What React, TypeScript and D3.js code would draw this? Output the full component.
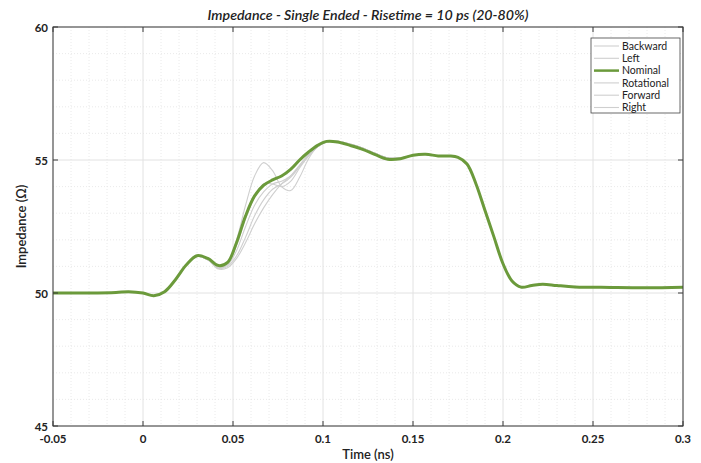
import React from "react";
import * as d3 from "d3";

const time = [-0.05, -0.03, -0.015, -0.008, 0, 0.006, 0.012, 0.018, 0.024, 0.03, 0.036, 0.042, 0.047, 0.052, 0.057, 0.062, 0.067, 0.072, 0.077, 0.082, 0.087, 0.092, 0.097, 0.102, 0.108, 0.115, 0.122, 0.129, 0.136, 0.143, 0.15, 0.157, 0.164, 0.17, 0.175, 0.18, 0.185, 0.19, 0.195, 0.2, 0.205, 0.21, 0.216, 0.222, 0.23, 0.24, 0.26, 0.28, 0.3];

const nominal = [50.0, 50.0, 50.02, 50.05, 50.0, 49.9, 50.05, 50.5, 51.05, 51.4, 51.3, 51.03, 51.15, 51.9, 52.9, 53.65, 54.05, 54.25, 54.4, 54.65, 55.0, 55.3, 55.55, 55.7, 55.68, 55.55, 55.4, 55.2, 55.03, 55.05, 55.18, 55.22, 55.15, 55.15, 55.1, 54.85, 54.1, 53.1, 52.1, 51.1, 50.45, 50.22, 50.28, 50.33, 50.28, 50.23, 50.21, 50.2, 50.22];
const backward = [50.0, 50.0, 50.02, 50.05, 50.0, 49.9, 50.05, 50.5, 51.05, 51.38, 51.25, 50.95, 51.1, 52.0, 53.3, 54.4, 54.9, 54.6, 54.0, 53.85, 54.35, 55.05, 55.5, 55.7, 55.7, 55.6, 55.45, 55.25, 55.08, 55.08, 55.18, 55.22, 55.15, 55.15, 55.1, 54.85, 54.1, 53.1, 52.1, 51.1, 50.45, 50.22, 50.28, 50.33, 50.28, 50.23, 50.21, 50.2, 50.22];
const left = [50.0, 50.0, 50.02, 50.05, 50.0, 49.9, 50.05, 50.5, 51.05, 51.38, 51.25, 50.95, 51.05, 51.6, 52.5, 53.3, 53.8, 54.1, 54.2, 54.4, 54.8, 55.2, 55.5, 55.68, 55.7, 55.6, 55.45, 55.25, 55.08, 55.08, 55.18, 55.22, 55.15, 55.15, 55.1, 54.85, 54.1, 53.1, 52.1, 51.1, 50.45, 50.22, 50.28, 50.33, 50.28, 50.23, 50.21, 50.2, 50.22];
const rotational = [50.0, 50.0, 50.02, 50.05, 50.0, 49.9, 50.05, 50.5, 51.05, 51.38, 51.25, 50.92, 51.0, 51.4, 52.1, 52.9, 53.5, 53.9, 54.1, 54.35, 54.75, 55.15, 55.5, 55.68, 55.7, 55.6, 55.45, 55.25, 55.08, 55.08, 55.18, 55.22, 55.15, 55.15, 55.1, 54.85, 54.1, 53.1, 52.1, 51.1, 50.45, 50.22, 50.28, 50.33, 50.28, 50.23, 50.21, 50.2, 50.22];
const forward = [50.0, 50.0, 50.02, 50.05, 50.0, 49.9, 50.05, 50.5, 51.05, 51.38, 51.25, 50.9, 50.95, 51.3, 51.9, 52.6, 53.2, 53.7, 54.1, 54.4, 54.8, 55.2, 55.5, 55.68, 55.7, 55.6, 55.45, 55.25, 55.08, 55.08, 55.18, 55.22, 55.15, 55.15, 55.1, 54.85, 54.1, 53.1, 52.1, 51.1, 50.45, 50.22, 50.28, 50.33, 50.28, 50.23, 50.21, 50.2, 50.22];
const right = [50.0, 50.0, 50.02, 50.05, 50.0, 49.9, 50.05, 50.5, 51.05, 51.38, 51.25, 50.95, 51.1, 51.8, 52.8, 53.6, 54.1, 54.1, 54.0, 54.2, 54.7, 55.15, 55.5, 55.68, 55.7, 55.6, 55.45, 55.25, 55.08, 55.08, 55.18, 55.22, 55.15, 55.15, 55.1, 54.85, 54.1, 53.1, 52.1, 51.1, 50.45, 50.22, 50.28, 50.33, 50.28, 50.23, 50.21, 50.2, 50.22];

const legendNames = ["Backward", "Left", "Nominal", "Rotational", "Forward", "Right"];
const xTicks = [-0.05, 0, 0.05, 0.1, 0.15, 0.2, 0.25, 0.3];
const xTickLabels = ["-0.05", "0", "0.05", "0.1", "0.15", "0.2", "0.25", "0.3"];
const yTicks = [45, 50, 55, 60];

const W = 701, H = 463;
const M = { left: 53, right: 683, top: 27, bottom: 426 };
const GREEN = "#6b9a3b";
const GRAY = "#cfcfcf";
const FONT = "Lato, 'Open Sans', sans-serif";

export default function App() {
  const x = d3.scaleLinear().domain([-0.05, 0.3]).range([M.left, M.right]);
  const y = d3.scaleLinear().domain([45, 60]).range([M.bottom, M.top]);
  const line = d3
    .line<number>()
    .x((_, i) => x(time[i]))
    .y((d) => y(d))
    .curve(d3.curveCatmullRom.alpha(0.5));

  const minorX = d3.range(-0.05, 0.3001, 0.01).filter((v) => Math.abs(Math.round(v * 20) - v * 20) > 1e-6);
  const minorY = d3.range(45, 60.001, 1).filter((v) => v % 5 !== 0);
  const grays = [backward, left, rotational, forward, right];
  const series = [backward, left, nominal, rotational, forward, right];

  const lx = 591, ly = 38, lw = 89, lh = 75;
  const rowH = 12.3;

  return (
    <svg width={W} height={H} style={{ position: "absolute", left: 0, top: 0, background: "#fff" }} fontFamily={FONT}>
      <rect x={0} y={0} width={W} height={H} fill="#fff" />
      {minorX.map((v, i) => (
        <line key={"mx" + i} x1={x(v)} x2={x(v)} y1={M.top} y2={M.bottom} stroke="#e4e4e4" strokeWidth={0.8} strokeDasharray="1,2" />
      ))}
      {minorY.map((v, i) => (
        <line key={"my" + i} x1={M.left} x2={M.right} y1={y(v)} y2={y(v)} stroke="#e4e4e4" strokeWidth={0.8} strokeDasharray="1,2" />
      ))}
      {xTicks.map((v, i) => (
        <line key={"gx" + i} x1={x(v)} x2={x(v)} y1={M.top} y2={M.bottom} stroke="#e2e2e2" strokeWidth={1} />
      ))}
      {yTicks.map((v, i) => (
        <line key={"gy" + i} x1={M.left} x2={M.right} y1={y(v)} y2={y(v)} stroke="#e2e2e2" strokeWidth={1} />
      ))}
      {grays.map((s, i) => (
        <path key={"g" + i} d={line(s) || ""} fill="none" stroke={GRAY} strokeWidth={1.1} />
      ))}
      <path d={line(nominal) || ""} fill="none" stroke={GREEN} strokeWidth={3} strokeLinejoin="round" />
      <rect x={M.left} y={M.top} width={M.right - M.left} height={M.bottom - M.top} fill="none" stroke="#3a3a3a" strokeWidth={1} />
      {xTicks.map((v, i) => (
        <g key={"tx" + i}>
          <line x1={x(v)} x2={x(v)} y1={M.bottom} y2={M.bottom - 5} stroke="#3a3a3a" />
          <line x1={x(v)} x2={x(v)} y1={M.top} y2={M.top + 5} stroke="#3a3a3a" />
          <text x={x(v)} y={M.bottom + 17} textAnchor="middle" fontSize={11.5} fontWeight="bold" fill="#222">
            {xTickLabels[i]}
          </text>
        </g>
      ))}
      {yTicks.map((v, i) => (
        <g key={"ty" + i}>
          <line x1={M.left} x2={M.left + 5} y1={y(v)} y2={y(v)} stroke="#3a3a3a" />
          <line x1={M.right} x2={M.right - 5} y1={y(v)} y2={y(v)} stroke="#3a3a3a" />
          <text x={M.left - 5} y={y(v) + 5} textAnchor="end" fontSize={11.5} fontWeight="bold" fill="#222">
            {v}
          </text>
        </g>
      ))}
      <text x={(M.left + M.right) / 2} y={459} textAnchor="middle" fontSize={13} fill="#222" fontWeight={600}>
        Time (ns)
      </text>
      <text transform={`translate(26,${(M.top + M.bottom) / 2}) rotate(-90)`} textAnchor="middle" fontSize={13} fill="#222" fontWeight={600}>
        Impedance (Ω)
      </text>
      <text x={(M.left + M.right) / 2} y={20} textAnchor="middle" fontSize={14.2} fontStyle="italic" fontWeight={600} fill="#222">
        Impedance - Single Ended - Risetime = 10 ps (20-80%)
      </text>
      <rect x={lx} y={ly} width={lw} height={lh} fill="#fff" stroke="#444" strokeWidth={0.8} />
      {legendNames.map((n, i) => {
        const yy = ly + 8 + i * rowH;
        const isNom = series[i] === nominal;
        return (
          <g key={"lg" + i}>
            <line x1={lx + 3} x2={lx + 28} y1={yy} y2={yy} stroke={isNom ? GREEN : GRAY} strokeWidth={isNom ? 2.5 : 1.1} />
            <text x={lx + 31} y={yy + 3.8} fontSize={10.5} fill="#222">
              {n}
            </text>
          </g>
        );
      })}
    </svg>
  );
}
